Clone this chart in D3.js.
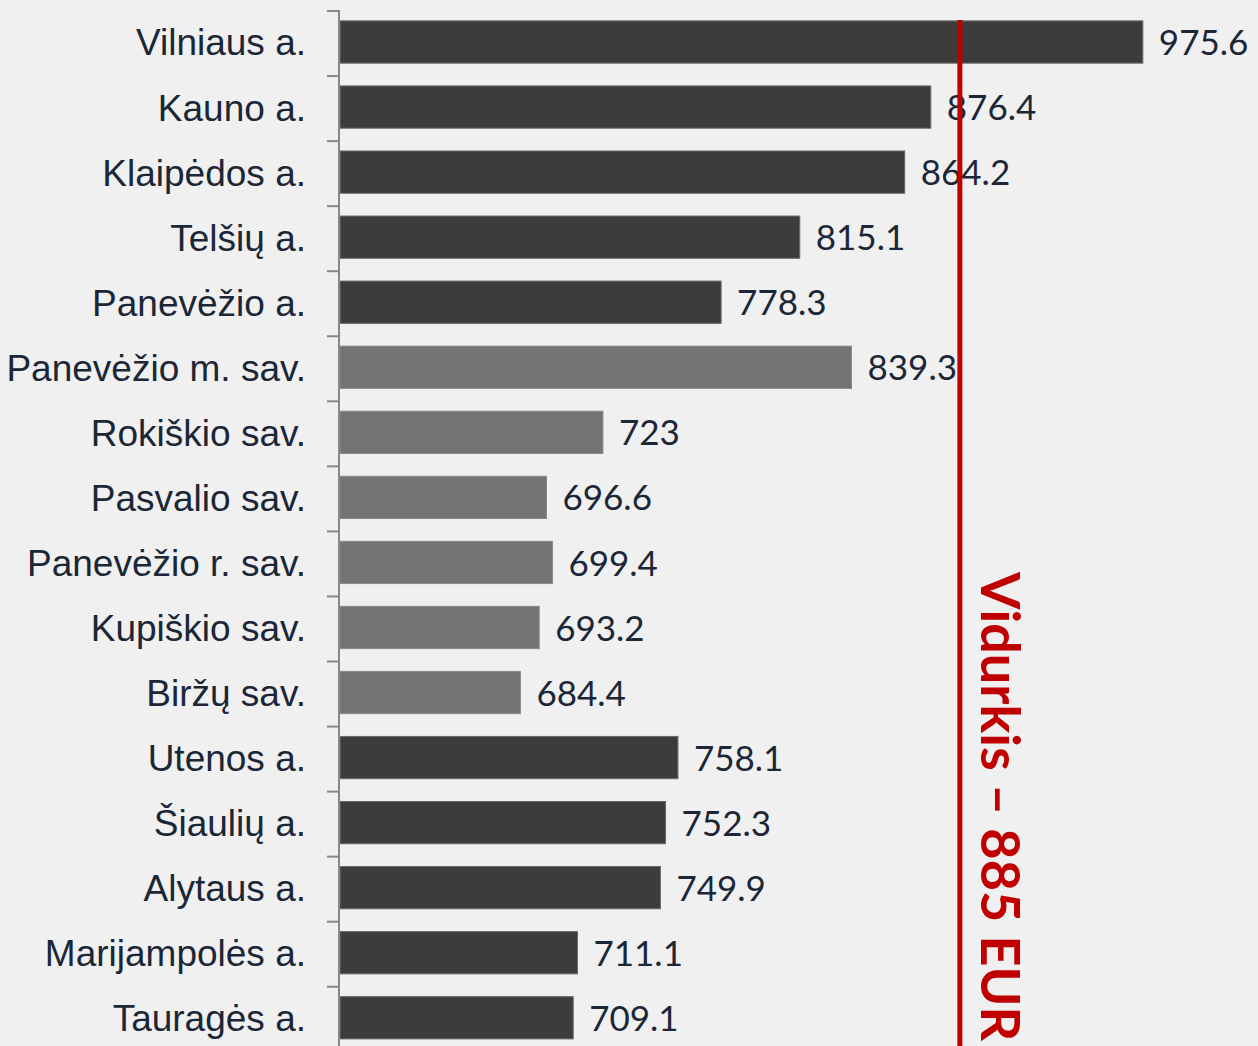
<!DOCTYPE html>
<html>
<head>
<meta charset="utf-8">
<script src="https://cdnjs.cloudflare.com/ajax/libs/d3/7.8.5/d3.min.js"></script>
<style>
  html, body { margin: 0; padding: 0; background: #f0f0f0; }
  .cat { font-family: "Liberation Sans", Arial, sans-serif; font-size: 37px; fill: #1b2736; }
  .val { font-family: Lato, "Open Sans", sans-serif; font-size: 35px; fill: #1b2736; }
  .avg { font-family: Lato, "Open Sans", sans-serif; font-size: 54px; font-weight: bold; fill: #c00000; }
</style>
</head>
<body>
<div id="chart"></div>
<script>
// data
var categories = ["Vilniaus a.", "Kauno a.", "Klaipėdos a.", "Telšių a.", "Panevėžio a.",
    "Panevėžio m. sav.", "Rokiškio sav.", "Pasvalio sav.", "Panevėžio r. sav.", "Kupiškio sav.",
    "Biržų sav.", "Utenos a.", "Šiaulių a.", "Alytaus a.", "Marijampolės a.", "Tauragės a."];
var values = [975.6, 876.4, 864.2, 815.1, 778.3, 839.3, 723, 696.6, 699.4, 693.2, 684.4,
    758.1, 752.3, 749.9, 711.1, 709.1];
var labels = ["975.6", "876.4", "864.2", "815.1", "778.3", "839.3", "723", "696.6", "699.4",
    "693.2", "684.4", "758.1", "752.3", "749.9", "711.1", "709.1"];
// true = municipality (lighter bar)
var isMunicipality = [false, false, false, false, false, true, true, true, true, true, true,
    false, false, false, false, false];
var averageLabel = "Vidurkis – 885 EUR";
var averageLineAt = 890; // where the red line sits on the value axis

var W = 1258, H = 1046;
var svg = d3.select("#chart").append("svg")
    .attr("width", W)
    .attr("height", H)
    .style("display", "block");

svg.append("rect").attr("width", W).attr("height", H).attr("fill", "#f0f0f0");

var x = d3.scaleLinear().domain([600, 1000]).range([340, 1195]);
var y = d3.scaleBand().domain(categories).range([11, 11 + 16 * 65.05]).paddingInner(0.35).paddingOuter(0.175);

// bars
svg.selectAll("rect.bar")
    .data(values)
    .enter().append("rect")
    .attr("class", "bar")
    .attr("x", x(600))
    .attr("y", function (d, i) { return y(categories[i]) - 1.5; })
    .attr("width", function (d) { return x(d) - x(600); })
    .attr("height", y.bandwidth())
    .attr("fill", function (d, i) { return isMunicipality[i] ? "#737373" : "#3c3c3c"; })
    .attr("stroke", function (d, i) { return isMunicipality[i] ? "#8a8a8a" : "#6a6a6a"; })
    .attr("stroke-width", 1);

// category axis
svg.append("line")
    .attr("x1", 339).attr("x2", 339)
    .attr("y1", 10).attr("y2", H)
    .attr("stroke", "#888").attr("stroke-width", 2);

// boundary ticks between categories
svg.selectAll("line.tick")
    .data(d3.range(17))
    .enter().append("line")
    .attr("class", "tick")
    .attr("x1", 327).attr("x2", 340)
    .attr("y1", function (i) { return 11 + i * y.step(); })
    .attr("y2", function (i) { return 11 + i * y.step(); })
    .attr("stroke", "#888").attr("stroke-width", 2);

svg.selectAll("text.cat")
    .data(categories)
    .enter().append("text")
    .attr("class", "cat")
    .attr("x", 306)
    .attr("y", function (d) { return y(d) + y.bandwidth() / 2 - 1; })
    .attr("dy", "0.35em")
    .attr("text-anchor", "end")
    .text(function (d) { return d; });

// value labels
svg.selectAll("text.val")
    .data(values)
    .enter().append("text")
    .attr("class", "val")
    .attr("x", function (d) { return x(d) + 16; })
    .attr("y", function (d, i) { return y(categories[i]) + y.bandwidth() / 2 - 1; })
    .attr("dy", "0.36em")
    .text(function (d, i) { return labels[i]; });

// average line
svg.append("line")
    .attr("x1", x(averageLineAt)).attr("x2", x(averageLineAt))
    .attr("y1", 20).attr("y2", H)
    .attr("stroke", "#c00000").attr("stroke-width", 5);

svg.append("text")
    .attr("class", "avg")
    .attr("transform", "translate(" + (x(averageLineAt) + 20) + ",572) rotate(90)")
    .attr("dy", "-0.02em")
    .text(averageLabel);
</script>
</body>
</html>
